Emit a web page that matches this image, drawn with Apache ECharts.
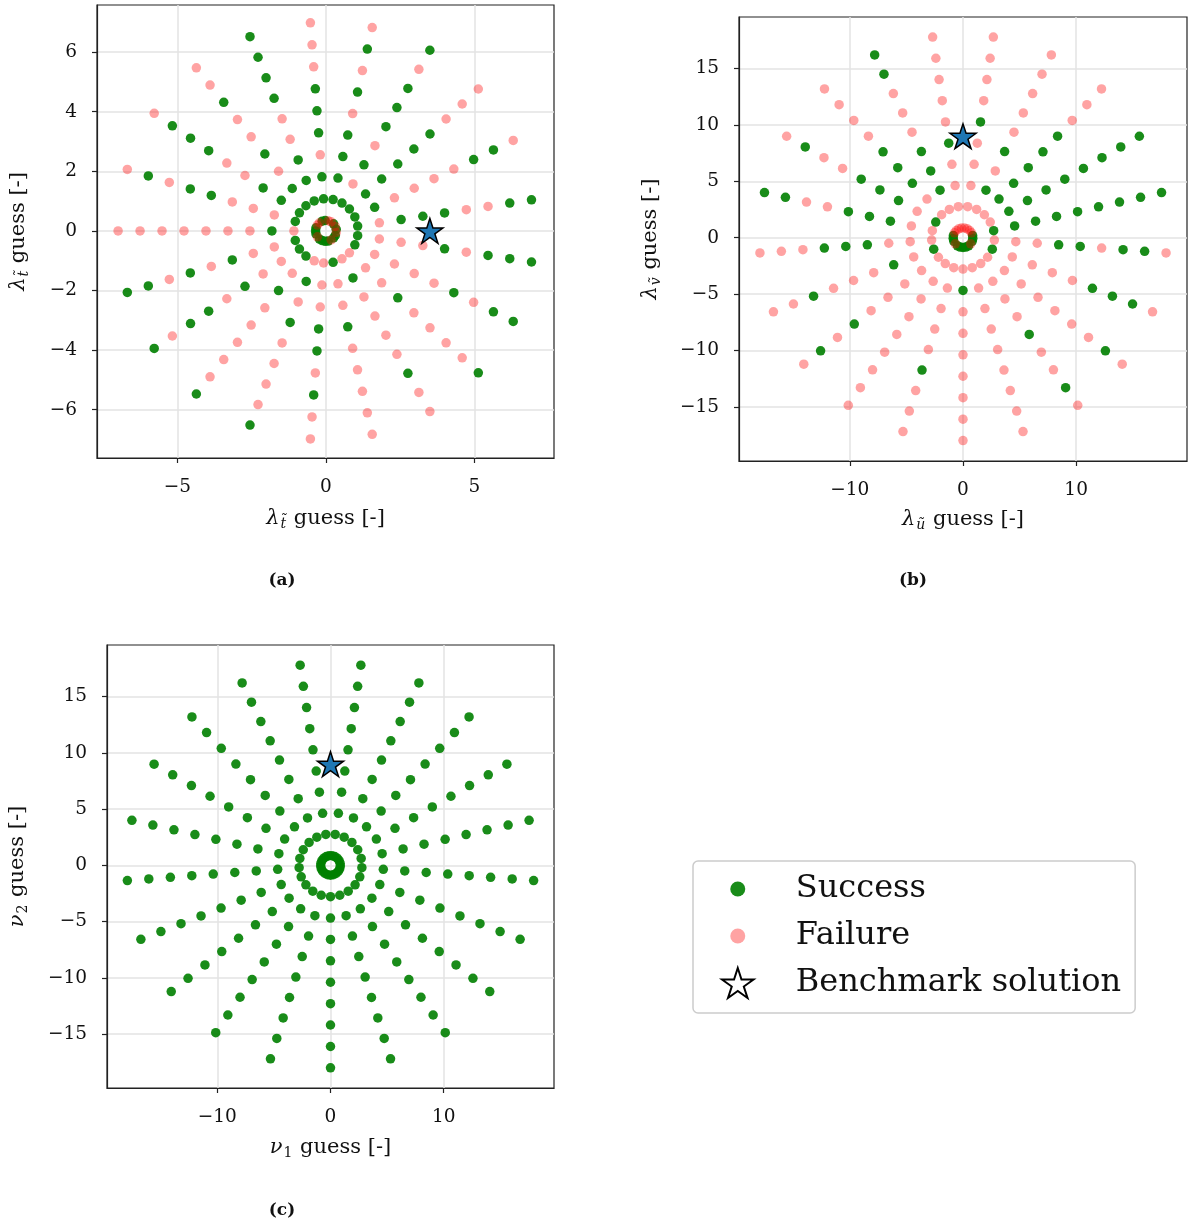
<!DOCTYPE html>
<html><head><meta charset="utf-8">
<script src="https://cdn.jsdelivr.net/npm/echarts@6/dist/echarts.min.js"></script>
<style>html,body{margin:0;padding:0;background:#fff}#c{width:1194px;height:1228px}</style>
</head><body><div id="c"></div>
<script>
// ---- data ----
// ray directions (degrees) and radii (outer -> inner) of the initial-guess grid
const anglesA = [180, 162.86, 145.71, 128.57, 111.43, 94.29, 77.14, 60, 42.86, 25.71, 8.57,
  -8.57, -25.71, -42.86, -60, -77.14, -94.29, -111.43, -128.57, -145.71, -162.86];
const radiiA = [7.0, 6.26, 5.52, 4.78, 4.04, 3.30, 2.56, 1.82, 1.08, 0.35];
// S = success, F = failure, per ray, outer -> inner
const statusA = ['FFFFFFFSFS','FSFSSFFFSS','FSSSFFSSSF','FFSFFSFSSF','SSSSFFSSSS','FFFSSSFSSS',
  'FSFSFSSSSF','SFSSSFSFSF','FFFSSSSSSS','FSSFFFFSSF','SSFFSSSFSS','SSSFSFFFSF','SSFSFFFFSS',
  'SFFFFSFFFS','FFSFFFFSFF','FFFFFSFFSS','FFSFSSFFFS','SFFFFSFSFS','SFFFFFSFSS','SFSSFSFFSF',
  'SSFSFSFFSS'];

const anglesB = [-90, -107.14, -124.29, -141.43, -158.57, -175.71, 167.14, 150, 132.86, 115.71,
  98.57, 81.43, 64.29, 47.14, 30, 12.86, -4.29, -21.43, -38.57, -55.71, -72.86];
const radiiB = [18.0, 16.1, 14.19, 12.29, 10.39, 8.48, 6.58, 4.68, 2.78, 0.87];
const statusB = ['FFFFFFFSFS','FFFSFFFFFS','FFFFFFFFFS','FSFSFFFFFF','FFSFFFSFSS','FFFSSSFFFS',
  'SSFFSSSFFS','FSFFSSSFSF','FFFFSSSFFF','SSFFFSSSFF','FFFFFSFFFF','FFFFSFFFFF','FFFFFSFSFF',
  'FFFSSSSSFF','SSSSSSSSFF','SSSSSSSSSS','FSSFSSFFFS','FSSSFFFFSS','FSFFFFFFFF','FSFFSFFFFS',
  'FFFFFFFFFS'];

const anglesC = [-90, -107.14, -124.29, -141.43, -158.57, -175.71, 167.14, 150, 132.86, 115.71,
  98.57, 81.43, 64.29, 47.14, 30, 12.86, -4.29, -21.43, -38.57, -55.71, -72.86];
const radiiC = [18.0, 16.1, 14.19, 12.29, 10.39, 8.48, 6.58, 4.68, 2.78, 0.87];
const statusC = ['SSSSSSSSSS','SSSSSSSSSS','SSSSSSSSSS','SSSSSSSSSS','SSSSSSSSSS','SSSSSSSSSS',
  'SSSSSSSSSS','SSSSSSSSSS','SSSSSSSSSS','SSSSSSSSSS','SSSSSSSSSS','SSSSSSSSSS','SSSSSSSSSS',
  'SSSSSSSSSS','SSSSSSSSSS','SSSSSSSSSS','SSSSSSSSSS','SSSSSSSSSS','SSSSSSSSSS','SSSSSSSSSS',
  'SSSSSSSSSS'];

const benchA = [3.5, 0];
const benchB = [0, 9];
const benchC = [0, 9];

const ticksAx = [-5, 0, 5];
const ticksAy = [-6, -4, -2, 0, 2, 4, 6];
const ticksBx = [-10, 0, 10];
const ticksBy = [-15, -10, -5, 0, 5, 10, 15];
const ticksCx = [-10, 0, 10];
const ticksCy = [-15, -10, -5, 0, 5, 10, 15];

// ---- build ----
function pts(angles, radii, status, flag) {
  const out = [];
  angles.forEach((a, i) => {
    const t = a * Math.PI / 180;
    radii.forEach((r, j) => {
      if (status[i][j] === flag) out.push([r * Math.cos(t), r * Math.sin(t)]);
    });
  });
  return out;
}
const SERIF = 'DejaVu Serif';
const GREEN = 'rgba(0,128,0,0.9)';
const PINK = 'rgba(255,0,0,0.36)';
const STAR = 'path://M50,0L61.23,34.55L97.55,34.55L68.17,55.9L79.39,90.45L50,69.1L20.61,90.45L31.83,55.9L2.45,34.55L38.77,34.55Z';
const DOT = 'path://M0,0M30,30M22.5,15A7.5,7.5,0,1,1,7.5,15A7.5,7.5,0,1,1,22.5,15Z';
const fmt = v => (v < 0 ? '\u2212' + Math.abs(v) : String(v));
const rich = {
  i: {fontFamily: SERIF, fontStyle: 'italic', fontSize: 21, color: '#111'},
  s: {fontFamily: SERIF, fontStyle: 'italic', fontSize: 14, color: '#111', padding: [10, 1, 0, 1]},
  d: {fontFamily: SERIF, fontSize: 14, color: '#111', padding: [10, 1, 0, 1]},
  n: {fontFamily: SERIF, fontSize: 21, color: '#111'}
};
function axis(idx, min, max, ticks, name, gap) {
  return {
    type: 'value', gridIndex: idx, min: min, max: max,
    axisLine: {show: true, onZero: false, lineStyle: {color: '#222', width: 1.2}},
    axisTick: {show: true, customValues: ticks, length: 5, lineStyle: {color: '#222', width: 1.2}},
    axisLabel: {customValues: ticks, formatter: fmt, fontFamily: SERIF, fontSize: 18.5, color: '#111', margin: 20},
    splitLine: {show: true, lineStyle: {color: '#e3e3e3', width: 1.5}},
    name: name, nameLocation: 'middle', nameGap: gap,
    nameTextStyle: {rich: rich, color: '#111'}
  };
}
const grids = [
  {left: 97, top: 5, width: 457, height: 453},
  {left: 739, top: 17, width: 448, height: 444},
  {left: 107, top: 645, width: 447, height: 443}
].map(g => Object.assign(g, {show: true, borderColor: '#222', borderWidth: 1.2, backgroundColor: 'transparent', containLabel: false}));

const xAxes = [
  axis(0, -7.71, 7.68, ticksAx, '{i|λ}{s|t̃}{n| guess [-]}', 49),
  axis(1, -19.8, 19.8, ticksBx, '{i|λ}{s|ũ}{n| guess [-]}', 47),
  axis(2, -19.75, 19.75, ticksCx, '{i|ν}{d|1}{n| guess [-]}', 48)
];
const yAxes = [
  axis(0, -7.62, 7.58, ticksAy, '{i|λ}{s|t̃}{n| guess [-]}', 66),
  axis(1, -19.81, 19.58, ticksBy, '{i|λ}{s|ṽ}{n| guess [-]}', 76),
  axis(2, -19.79, 19.59, ticksCy, '{i|ν}{d|2}{n| guess [-]}', 77)
];
const sets = [
  [anglesA, radiiA, statusA, benchA],
  [anglesB, radiiB, statusB, benchB],
  [anglesC, radiiC, statusC, benchC]
];
const series = [];
sets.forEach((s, k) => {
  series.push({name: 'Success', type: 'scatter', xAxisIndex: k, yAxisIndex: k, symbol: 'circle', symbolSize: 9.5,
    itemStyle: {color: GREEN, opacity: 1}, data: pts(s[0], s[1], s[2], 'S'), z: 2, emphasis: {disabled: true}});
  series.push({name: 'Failure', type: 'scatter', xAxisIndex: k, yAxisIndex: k, symbol: 'circle', symbolSize: 9.5,
    itemStyle: {color: PINK, opacity: 1}, data: pts(s[0], s[1], s[2], 'F'), z: 3, emphasis: {disabled: true}});
  series.push({name: 'Benchmark solution', type: 'scatter', xAxisIndex: k, yAxisIndex: k, symbol: STAR,
    symbolKeepAspect: true, symbolSize: 26, itemStyle: {color: '#1f77b4', borderColor: '#000', borderWidth: 1.5, opacity: 1},
    data: [s[3]], z: 5, emphasis: {disabled: true}});
});

const chart = echarts.init(document.getElementById('c'), null, {renderer: 'canvas'});
chart.setOption({
  animation: false,
  backgroundColor: '#fff',
  grid: grids,
  xAxis: xAxes,
  yAxis: yAxes,
  series: series,
  legend: {
    orient: 'vertical', left: 693, top: 861,
    padding: [12, 14, 14, 28], itemWidth: 60, itemHeight: 30, itemGap: 15,
    borderColor: '#cccccc', borderWidth: 1.5, borderRadius: 5, backgroundColor: '#fff',
    selectedMode: false,
    textStyle: {fontFamily: SERIF, fontSize: 32, color: '#111', padding: [0, 0, 0, 23]},
    data: [
      {name: 'Success', icon: DOT, itemStyle: {color: GREEN, borderWidth: 0, opacity: 1}},
      {name: 'Failure', icon: DOT, itemStyle: {color: PINK, borderWidth: 0, opacity: 1}},
      {name: 'Benchmark solution', icon: STAR, itemStyle: {color: '#fff', borderColor: '#000', borderWidth: 2, opacity: 1}}
    ]
  },
  graphic: [
    {type: 'text', x: 282, y: 581, style: {text: '(a)', font: 'bold 17px "DejaVu Serif"', fill: '#111', align: 'center', verticalAlign: 'middle'}},
    {type: 'text', x: 913, y: 581, style: {text: '(b)', font: 'bold 17px "DejaVu Serif"', fill: '#111', align: 'center', verticalAlign: 'middle'}},
    {type: 'text', x: 282, y: 1211, style: {text: '(c)', font: 'bold 17px "DejaVu Serif"', fill: '#111', align: 'center', verticalAlign: 'middle'}}
  ]
});
</script></body></html>
